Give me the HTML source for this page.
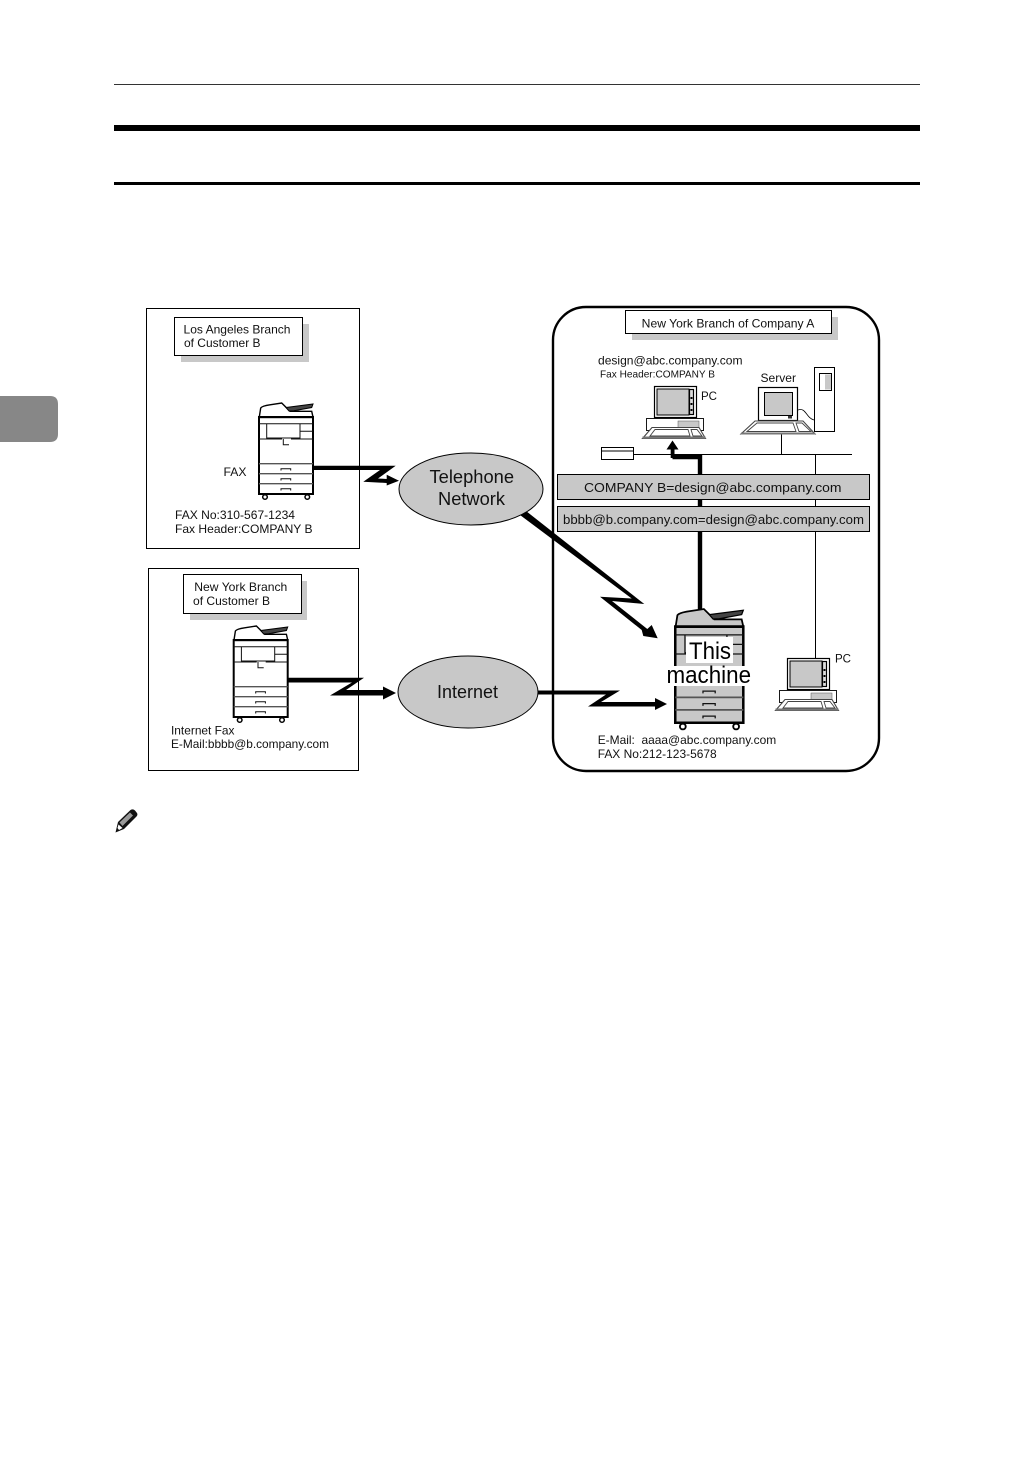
<!DOCTYPE html>
<html><head><meta charset="utf-8">
<style>
html,body{margin:0;padding:0;background:#fff}
svg{display:block}
text{font-family:"Liberation Sans",sans-serif;fill:#111;font-size:12px}
</style></head>
<body>
<svg xmlns="http://www.w3.org/2000/svg" width="1032" height="1458" viewBox="0 0 1032 1458">
<defs>
<g id="copier">
  <path d="M1.3,14 L2.7,5 Q4,3 12,1.8 L23.7,0 L32,8.3 L53.7,8.3 L55,14 Z" fill="currentColor" stroke="#000" stroke-width="1.4"/>
  <path d="M28,4.5 L55,1 L53.7,4.5 L36,7.8 L31,8 Z" fill="#444" stroke="#000" stroke-width="1"/>
  <rect x="1" y="14" width="54" height="77" fill="currentColor" stroke="#000" stroke-width="2"/>
  <rect x="1" y="13.2" width="54" height="2" fill="#000"/>
  <path d="M1,20.7 H55 M1.5,35 M3,20.7 M8.7,20.7 V35 H42 V20.7 M42,28.3 H55 M1,36 H24 M33,36 H55 M25.3,36 V41.7 H31" fill="none" stroke="#111" stroke-width="1"/>
  <path d="M1,60.7 H55 M1,70.7 H55 M1,80.7 H55" fill="none" stroke="#555" stroke-width="1.4"/>
  <path d="M23,67.5 V65.7 H32.7 V67.5 M23,77.5 V75.7 H32.7 V77.5 M23,87.5 V85.7 H32.7 V87.5" fill="none" stroke="#111" stroke-width="1"/>
  <circle cx="7" cy="94" r="2.3" fill="#fff" stroke="#000" stroke-width="1.5"/>
  <circle cx="49.3" cy="94" r="2.3" fill="#fff" stroke="#000" stroke-width="1.5"/>
</g>
<g id="pc">
  <rect x="646.5" y="418.5" width="57" height="12" fill="#fff" stroke="#000" stroke-width=".9"/>
  <rect x="678" y="421" width="21" height="6.5" fill="#c8c8c8" stroke="#555" stroke-width=".5"/>
  <rect x="654.5" y="386.5" width="42" height="31" fill="#fff" stroke="#000" stroke-width="1.2"/>
  <rect x="657" y="389" width="32" height="26" fill="#c8c8c8" stroke="#000"/>
  <rect x="689.5" y="389.5" width="4" height="25" fill="#ddd" stroke="#000" stroke-width="1.2"/>
  <path d="M691.5,397 v2 M691.5,403 v2 M691.5,409 v2" stroke="#000" stroke-width="2"/>
  <path d="M652,427.5 H699 L705.5,438.5 H642.5 Z" fill="#fff" stroke="#444" stroke-width="1.1"/>
  <path d="M650,436 L655,429.5 H688 L690,436 Z M691,429.5 H697 L702,436 H693 Z" fill="#fff" stroke="#444" stroke-width=".9"/>
  <rect x="642.5" y="436.5" width="63" height="2.2" fill="#777"/>
</g>
</defs>

<!-- page furniture -->
<rect x="114" y="84" width="806" height="1" fill="#333"/>
<rect x="114" y="125" width="806" height="6" fill="#000"/>
<rect x="114" y="182" width="806" height="3" fill="#000"/>
<path d="M0,396 H50 Q58,396 58,404 V434 Q58,442 50,442 H0 Z" fill="#878787"/>

<!-- LA box -->
<rect x="146.5" y="308.5" width="213" height="240" fill="#fff" stroke="#000"/>
<rect x="181" y="324" width="128" height="38" fill="#c8c8c8"/>
<rect x="174.5" y="317.5" width="128" height="38" fill="#fff" stroke="#000"/>
<text x="183.5" y="333.3" textLength="107" lengthAdjust="spacingAndGlyphs">Los Angeles Branch</text>
<text x="184" y="347" textLength="76.5" lengthAdjust="spacingAndGlyphs">of Customer B</text>
<use href="#copier" transform="translate(258,403)" color="#fff"/>
<text x="223.5" y="476" textLength="23" lengthAdjust="spacingAndGlyphs">FAX</text>
<text x="175" y="519" textLength="120" lengthAdjust="spacingAndGlyphs">FAX No:310-567-1234</text>
<text x="175" y="533" textLength="137.5" lengthAdjust="spacingAndGlyphs">Fax Header:COMPANY B</text>

<!-- NY customer box -->
<rect x="148.5" y="568.5" width="210" height="202" fill="#fff" stroke="#000"/>
<rect x="190" y="581" width="117" height="39" fill="#c8c8c8"/>
<rect x="183.5" y="574.5" width="118" height="39" fill="#fff" stroke="#000"/>
<text x="194.3" y="591" textLength="93" lengthAdjust="spacingAndGlyphs">New York Branch</text>
<text x="193" y="605" textLength="77" lengthAdjust="spacingAndGlyphs">of Customer B</text>
<use href="#copier" transform="translate(232.7,626)" color="#fff"/>
<text x="171" y="734.3" textLength="63.5" lengthAdjust="spacingAndGlyphs">Internet Fax</text>
<text x="171" y="748" textLength="158" lengthAdjust="spacingAndGlyphs">E-Mail:bbbb@b.company.com</text>

<!-- Company A -->
<rect x="553" y="307" width="326" height="464" rx="33" ry="33" fill="#fff" stroke="#000" stroke-width="2.4"/>
<rect x="632" y="317" width="206" height="23" fill="#c8c8c8"/>
<rect x="625.5" y="310.5" width="206" height="23" fill="#fff" stroke="#000"/>
<text x="641.7" y="327.3" textLength="172.7" lengthAdjust="spacingAndGlyphs">New York Branch of Company A</text>
<text x="598" y="364.5" textLength="144.5" lengthAdjust="spacingAndGlyphs">design@abc.company.com</text>
<text x="600" y="377.5" style="font-size:10.5px" textLength="115" lengthAdjust="spacingAndGlyphs">Fax Header:COMPANY B</text>
<text x="701" y="400" textLength="16" lengthAdjust="spacingAndGlyphs">PC</text>
<text x="760.5" y="382" textLength="35.5" lengthAdjust="spacingAndGlyphs">Server</text>

<!-- network -->
<path d="M634,454.5 H852 M781.5,434 V454 M815.5,454 V658" fill="none" stroke="#000"/>
<rect x="601.5" y="447.5" width="32" height="12" fill="#fff" stroke="#000"/>
<path d="M602,451 H633" stroke="#000"/>
<path d="M700,609 V457 H672.5" fill="none" stroke="#000" stroke-width="4.4"/>
<path d="M672.5,440.5 L678.5,449.5 H666.5 Z" fill="#000"/>
<rect x="670.7" y="448" width="3.8" height="10" fill="#000"/>

<use href="#pc"/>
<use href="#pc" transform="translate(133,272)"/>

<!-- server -->
<rect x="814.5" y="367.5" width="20" height="64" fill="#fff" stroke="#000"/>
<rect x="819.5" y="373.5" width="12" height="17" fill="#fff" stroke="#000"/>
<rect x="825" y="374.5" width="6" height="15" fill="#c8c8c8"/>
<path d="M798,410 C806,407 806,418 814,420" fill="none" stroke="#000" stroke-width=".8"/>
<rect x="758.5" y="387.5" width="39" height="33" fill="#fff" stroke="#000" stroke-width="1.2"/>
<rect x="764.5" y="392.5" width="28" height="23" fill="#c8c8c8" stroke="#000"/>
<rect x="788" y="416" width="4" height="2.5" fill="#333"/>
<path d="M755,421 H803 L815,434 H741 Z" fill="#fff" stroke="#444" stroke-width="1.1"/>
<path d="M747,431.5 L757,423 H793 L796,431.5 Z M796,423 H802 L811,431.5 H799 Z" fill="#fff" stroke="#444" stroke-width=".9"/>
<rect x="741" y="432.5" width="74" height="2" fill="#777"/>

<!-- grey bars -->
<rect x="557.5" y="474.5" width="312" height="25" fill="#c8c8c8" stroke="#000"/>
<text x="584" y="492" style="font-size:13px" textLength="257.5" lengthAdjust="spacingAndGlyphs">COMPANY B=design@abc.company.com</text>
<rect x="557.5" y="506.5" width="312" height="25" fill="#c8c8c8" stroke="#000"/>
<text x="563" y="524" style="font-size:13px" textLength="301" lengthAdjust="spacingAndGlyphs">bbbb@b.company.com=design@abc.company.com</text>

<!-- lightning connectors -->
<path d="M314,465.7 L395.7,465.7 L378,478.5 L386.7,479 L386.7,474.7 L399,480.7 L386.7,485.5 L386.7,483 L363.3,481.7 L380,470 L314,470 Z" fill="#000"/>
<path d="M288,677.7 L364,677.7 L346,690 L383,690 L383,686.5 L396,693 L383,699.5 L383,695.5 L330,695.5 L352,682.5 L288,682.5 Z" fill="#000"/>
<path d="M538,690.5 L620,690.5 L601,702 L655,702 L655,698 L667,704 L655,710 L655,706.5 L588,706.5 L606,694.5 L538,694.5 Z" fill="#000"/>
<path d="M526,511 L644.3,604 L612,601 L647.3,629 L651.7,625 L657.7,638.3 L643.3,636 L641.7,630 L600,596.7 L631.7,598.5 L520,515 Z" fill="#000"/>

<!-- ellipses -->
<ellipse cx="471" cy="489" rx="72" ry="36" fill="#c8c8c8" stroke="#000"/>
<text x="429.5" y="483" style="font-size:18px" textLength="84.5" lengthAdjust="spacingAndGlyphs">Telephone</text>
<text x="438" y="505" style="font-size:18px" textLength="67" lengthAdjust="spacingAndGlyphs">Network</text>
<ellipse cx="468" cy="692" rx="70" ry="36" fill="#c8c8c8" stroke="#000"/>
<text x="437" y="698" style="font-size:18px" textLength="61" lengthAdjust="spacingAndGlyphs">Internet</text>

<!-- this machine -->
<use href="#copier" transform="translate(674,609) scale(1.26,1.25)" color="#c8c8c8"/>
<rect x="686" y="637" width="47" height="26" fill="#fff"/>
<rect x="667" y="666" width="84" height="20" fill="#fff"/>
<text x="689" y="659" style="font-size:24px;fill:#000" textLength="42" lengthAdjust="spacingAndGlyphs">This</text>
<text x="666.5" y="683" style="font-size:24px;fill:#000" textLength="84.5" lengthAdjust="spacingAndGlyphs">machine</text>
<text x="835" y="662.7" textLength="16" lengthAdjust="spacingAndGlyphs">PC</text>
<text x="597.7" y="744" textLength="178.5" lengthAdjust="spacingAndGlyphs">E-Mail:&#160;&#160;aaaa@abc.company.com</text>
<text x="597.7" y="758" textLength="119" lengthAdjust="spacingAndGlyphs">FAX No:212-123-5678</text>

<!-- pencil note icon -->
<g transform="translate(0,1)">
<path d="M115.5,831.5 L118,821 L130.5,809 Q133,807.5 135,809.5 L137,812 Q138,814 136.5,815.5 L124,828 Z" fill="#111"/>
<path d="M119.5,821.5 L130,811.5 L133,814.5 L122.5,825 Z" fill="#999"/>
<path d="M118.5,823.5 L122.5,827 L119,829 L117.5,827 Z" fill="#fff"/>
</g>
</svg>
</body></html>
